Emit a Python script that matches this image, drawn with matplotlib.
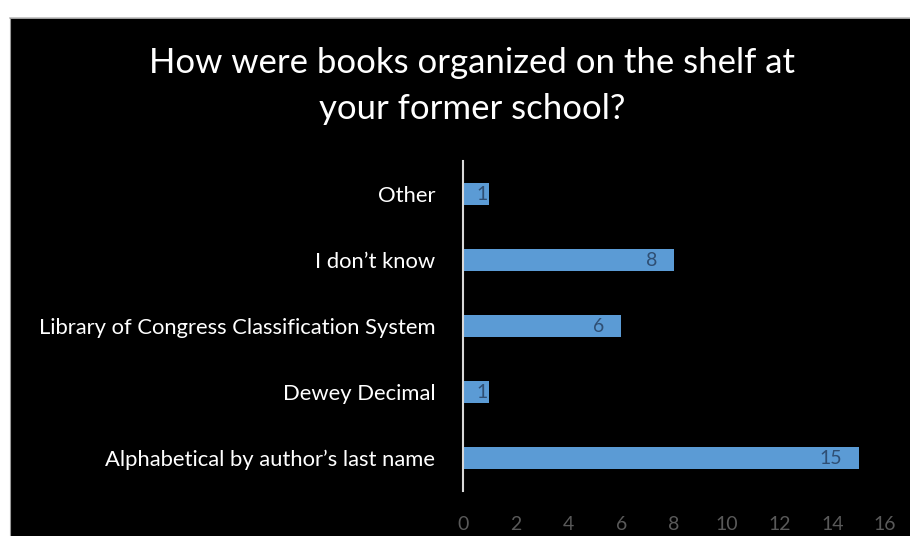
import matplotlib
matplotlib.use('Agg')
import matplotlib.pyplot as plt
from matplotlib.patches import Rectangle
from matplotlib.lines import Line2D

categories = ['Alphabetical by author\u2019s last name', 'Dewey Decimal',
              'Library of Congress Classification System', 'I don\u2019t know', 'Other']
counts = [15, 1, 6, 8, 1]
xticks = [0, 2, 4, 6, 8, 10, 12, 14, 16]

plt.rcParams['font.family'] = ['Lato', 'DejaVu Sans']

fig = plt.figure(figsize=(9.1, 5.36), dpi=100)
fig.patch.set_facecolor('white')

# black slide-like panel with a thin grey edge on top/left
x0, y1 = 10 / 910, 1 - 18 / 536
panel = Rectangle((x0, 0), 1 - x0, y1, transform=fig.transFigure,
                  facecolor='black', edgecolor='none', zorder=-5)
fig.patches.append(panel)
fig.lines.append(Line2D([x0, 1], [y1, y1], transform=fig.transFigure,
                        color='#bfbfbf', lw=1.2, zorder=-4))
fig.lines.append(Line2D([x0, x0], [0, y1], transform=fig.transFigure,
                        color='#9a9a9a', lw=0.8, zorder=-4))

ax = fig.add_axes([463 / 910, 45 / 536, 422 / 910, 330 / 536])
ax.set_facecolor('black')
ax.patch.set_alpha(0)

y = range(len(categories))
ax.barh(y, counts, height=0.33, color='#5b9bd5')
ax.set_xlim(0, 16)
ax.set_ylim(-0.5, len(categories) - 0.5)

for i, v in enumerate(counts):
    off = -12 if v > 2 else -1
    ax.annotate(str(v), (v, i), xytext=(off, 0), textcoords='offset points',
                ha='right', va='center', fontsize=14, color='#2f4f74')

ax.set_yticks(list(y))
ax.set_yticklabels(categories, fontsize=15.8, color='white')
ax.set_xticks(xticks)
ax.set_xticklabels([str(t) for t in xticks], fontsize=14, color='#595959')
ax.tick_params(axis='y', length=0, pad=20)
ax.tick_params(axis='x', length=0, pad=18)

for s in ['top', 'right', 'bottom']:
    ax.spines[s].set_visible(False)
ax.spines['left'].set_color('#d9d9d9')
ax.spines['left'].set_linewidth(1.5)

fig.text(472 / 910, 1 - 86 / 536, 'How were books organized on the shelf at\nyour former school?',
         ha='center', va='center', fontsize=25, color='white', linespacing=1.55)

plt.savefig('out.png', dpi=100)
